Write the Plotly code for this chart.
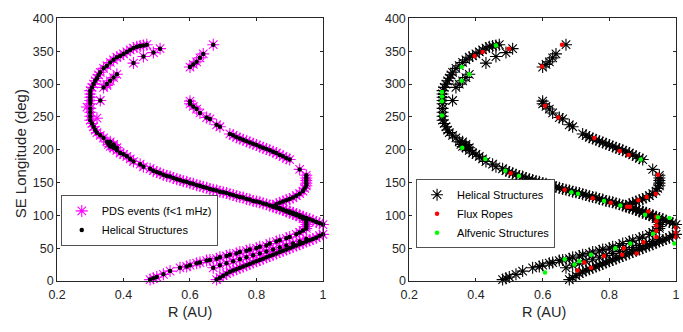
import plotly.graph_objects as go

# ---------------- data ----------------
# outer arc + long diagonal + outer tip
arc_R = [0.47, 0.46, 0.45, 0.44, 0.43, 0.42, 0.41, 0.40, 0.39, 0.38, 0.37, 0.36, 0.35, 0.34, 0.33, 0.325,
         0.32, 0.315, 0.31, 0.305, 0.30, 0.30, 0.30, 0.30, 0.30, 0.30, 0.30, 0.30, 0.30, 0.305, 0.31, 0.315,
         0.32, 0.33, 0.34, 0.35, 0.355, 0.36, 0.37, 0.38, 0.39, 0.40, 0.41, 0.42, 0.43, 0.45, 0.46, 0.48,
         0.49, 0.50, 0.51, 0.52, 0.53, 0.54, 0.55, 0.56, 0.57, 0.58, 0.59, 0.60, 0.61, 0.62, 0.63, 0.64,
         0.65, 0.66, 0.67, 0.68, 0.69, 0.70, 0.71, 0.72, 0.73, 0.74, 0.75, 0.76, 0.77, 0.78, 0.79, 0.80,
         0.81, 0.82, 0.83, 0.84, 0.85, 0.86, 0.87, 0.88, 0.89, 0.90, 0.91, 0.92, 0.93, 0.94, 0.95, 0.96,
         0.97, 0.98, 0.99, 1.00, 1.01, 1.01, 1.01, 1.01, 1.00, 0.99]
arc_lon = [360, 359, 358, 357, 355, 352, 349, 346, 343, 341, 337, 333, 328, 324, 318, 314,
           309, 305, 300, 295, 290, 285, 280, 275, 270, 263, 257, 251, 245, 240, 235, 230,
           226, 222, 218, 212, 208, 205, 203, 199, 195, 193, 190, 186, 182, 178, 174, 171,
           168, 166, 164, 162, 160, 159, 157, 155, 154, 152, 151, 149, 148, 146, 145, 143,
           142, 140, 139, 138, 136, 135, 134, 132, 131, 129, 128, 127, 125, 124, 122, 121,
           120, 118, 117, 115, 114, 112, 111, 109, 107, 106, 104, 102, 100, 98, 96, 94,
           92, 90, 88, 86, 83, 80, 77, 74, 71, 69]

# lower arm from the outer tip down to R~0.68
low_outer_R = [0.98, 0.97, 0.96, 0.95, 0.94, 0.93, 0.92, 0.91, 0.90, 0.89, 0.88, 0.87, 0.86, 0.85, 0.84, 0.83,
               0.82, 0.81, 0.80, 0.79, 0.78, 0.77, 0.76, 0.75, 0.74, 0.73, 0.72, 0.71, 0.70, 0.69, 0.68]
low_outer_lon = [66, 64, 62, 60, 58, 56, 54, 52, 50, 48, 46, 44, 42, 40, 38, 36,
                 34, 32, 30, 28, 26, 24, 22, 20, 18, 16, 14, 11, 8, 5, 2]

# middle lower band
low_mid_R = [0.67, 0.69, 0.71, 0.73, 0.75, 0.77, 0.79, 0.81, 0.83, 0.85, 0.87, 0.89, 0.91, 0.93, 0.95]
low_mid_lon = [20, 24, 27, 30, 33, 36, 39, 42, 45, 48, 51, 54, 57, 60, 64]

# inner lower arm (from R~0.48) up through the inner tip
low_inner_R = [0.48, 0.49, 0.50, 0.52, 0.54, 0.57, 0.59, 0.60, 0.62, 0.63, 0.65, 0.66, 0.68, 0.69, 0.71, 0.72,
               0.74, 0.75, 0.77, 0.78, 0.80, 0.81, 0.83, 0.84, 0.86, 0.87, 0.89, 0.90, 0.92, 0.93, 0.94, 0.95,
               0.95, 0.95, 0.95, 0.95, 0.94, 0.93, 0.92, 0.91, 0.90, 0.89, 0.88, 0.87, 0.86, 0.85]
low_inner_lon = [2, 4, 6, 10, 15, 20, 22, 24, 27, 28, 31, 32, 34, 36, 38, 40,
                 42, 44, 46, 48, 50, 52, 54, 57, 60, 62, 65, 67, 71, 74, 77, 80,
                 83, 86, 89, 92, 95, 98, 100, 102, 104, 106, 108, 110, 112, 113]

# inner arc (right hand one)
inner_R = [0.86, 0.87, 0.88, 0.89, 0.90, 0.91, 0.92, 0.93, 0.94, 0.945, 0.95, 0.95, 0.95, 0.95, 0.95, 0.93,
           0.90, 0.89, 0.88, 0.87, 0.86, 0.85, 0.84, 0.83, 0.82, 0.81, 0.80, 0.79, 0.78, 0.77, 0.76, 0.75,
           0.74, 0.73, 0.72, 0.69, 0.68, 0.66, 0.65, 0.63, 0.62, 0.61, 0.60, 0.60,
           0.60, 0.61, 0.62, 0.63, 0.64, 0.67]
inner_lon = [117, 119, 121, 123, 125, 127, 130, 133, 137, 141, 145, 149, 153, 157, 161, 170,
             185, 187, 190, 192, 195, 197, 199, 201, 203, 205, 207, 209, 211, 213, 215, 217,
             219, 222, 224, 235, 238, 247, 249, 256, 262, 266, 270, 274,
             326, 330, 334, 340, 346, 360]

# secondary points inside the outer arc
second_R = [0.51, 0.49, 0.46, 0.43, 0.38, 0.37, 0.36, 0.35, 0.34, 0.33, 0.36, 0.37, 0.37, 0.38]
second_lon = [354, 348, 342, 332, 315, 310, 305, 300, 295, 275, 212, 208, 206, 203]

# PDS-only events
pds_only_R = [0.29, 0.32, 0.35]
pds_only_lon = [265, 248, 298]

# Flux ropes
fr_R = [0.499, 0.396, 0.42, 0.658, 0.598, 0.607, 0.647, 0.755, 0.831, 0.858, 0.946, 0.939, 0.912, 0.887,
        0.862, 0.504, 0.607, 0.666, 0.75, 0.804, 0.853, 0.917, 0.941, 0.941, 0.941, 0.941, 1.0, 1.0, 1.0,
        0.941, 0.902, 0.843, 0.784, 0.725, 0.705, 0.745, 0.882, 0.838]
fr_lon = [354, 343, 349, 360, 327, 267, 249, 218, 198, 192, 162, 133, 128, 123,
          113, 164, 147, 139, 126, 119, 113, 106, 98, 91, 84, 76, 81, 74, 67,
          67, 59, 50, 38, 28, 16, 20, 42, 40]

# Alfvenic structures
alf_R = [0.46, 0.357, 0.38, 0.357, 0.298, 0.298, 0.298, 0.298, 0.359, 0.428, 0.488, 0.529, 0.568, 0.588,
         0.627, 0.686, 0.706, 0.784, 0.833, 0.894, 0.907, 0.946, 0.98, 0.995, 0.931, 0.863, 0.818, 0.745,
         0.666, 0.607, 0.695, 0.71]
alf_lon = [359, 326, 315, 305, 288, 281, 274, 252, 203, 186, 168, 160, 151, 150,
           142, 135, 133, 122, 115, 185, 101, 97, 96, 57, 72, 57, 50, 40,
           33, 13, 25, 30]

hel_R = arc_R + low_outer_R + low_mid_R + low_inner_R + inner_R + second_R
hel_lon = arc_lon + low_outer_lon + low_mid_lon + low_inner_lon + inner_lon + second_lon
pds_R = hel_R + pds_only_R
pds_lon = hel_lon + pds_only_lon

x_ticks = [0.2, 0.4, 0.6, 0.8, 1.0]
x_ticktext = ["0.2", "0.4", "0.6", "0.8", "1"]
y_ticks = [0, 50, 100, 150, 200, 250, 300, 350, 400]

# ---------------- figure ----------------
W, H = 683, 332
FONT = "Liberation Sans, Arial, sans-serif"
AX = "#262626"

fig = go.Figure()
# left panel
fig.add_trace(go.Scatter(x=pds_R, y=pds_lon, mode="markers", name="PDS events (f<1 mHz)",
                         cliponaxis=False,
                         marker=dict(symbol="asterisk-open", size=10, color="#FF00FF",
                                     line=dict(color="#FF00FF", width=1.1)),
                         xaxis="x", yaxis="y", legend="legend"))
fig.add_trace(go.Scatter(x=hel_R, y=hel_lon, mode="markers", name="Helical Structures",
                         cliponaxis=False,
                         marker=dict(symbol="circle", size=4.5, color="black", line=dict(width=0)),
                         xaxis="x", yaxis="y", legend="legend"))
# right panel
fig.add_trace(go.Scatter(x=hel_R, y=hel_lon, mode="markers", name="Helical Structures",
                         cliponaxis=False,
                         marker=dict(symbol="asterisk-open", size=10, color="black",
                                     line=dict(color="black", width=1.1)),
                         xaxis="x2", yaxis="y2", legend="legend2"))
fig.add_trace(go.Scatter(x=fr_R, y=fr_lon, mode="markers", name="Flux Ropes",
                         cliponaxis=False,
                         marker=dict(symbol="circle", size=4.5, color="#FF0000", line=dict(width=0)),
                         xaxis="x2", yaxis="y2", legend="legend2"))
fig.add_trace(go.Scatter(x=alf_R, y=alf_lon, mode="markers", name="Alfvenic Structures",
                         cliponaxis=False,
                         marker=dict(symbol="circle", size=4.5, color="#00FF00", line=dict(width=0)),
                         xaxis="x2", yaxis="y2", legend="legend2"))

def px(v):
    return v / W

def py(v):
    return 1 - v / H

ax_common = dict(showgrid=False, zeroline=False, showline=True, linecolor=AX, linewidth=0.8,
                 mirror="ticks", ticks="inside", ticklen=3, tickcolor=AX, tickwidth=0.8,
                 tickfont=dict(family=FONT, size=12.5, color=AX))

xdict = dict(ax_common, range=[0.2, 1.0], tickvals=x_ticks, ticktext=x_ticktext, ticklabelstandoff=2)
ydict = dict(ax_common, range=[0, 400], tickvals=y_ticks)

legend_common = dict(bgcolor="white", bordercolor=AX, borderwidth=0.8,
                     font=dict(family=FONT, size=11, color="black"),
                     xanchor="center", yanchor="middle", tracegroupgap=0, itemwidth=30)

fig.update_layout(
    width=W, height=H, margin=dict(l=0, r=0, t=0, b=0),
    paper_bgcolor="white", plot_bgcolor="white", showlegend=True,
    xaxis=dict(xdict, domain=[px(49), px(320)], anchor="y"),
    yaxis=dict(ydict, domain=[py(286), py(12)], anchor="x"),
    xaxis2=dict(xdict, domain=[px(408), px(680)], anchor="y2"),
    yaxis2=dict(ydict, domain=[py(286), py(12)], anchor="x2"),
    legend=dict(legend_common, x=px(133), y=py(223)),
    legend2=dict(legend_common, x=px(486), y=py(216)),
    annotations=[
        dict(text="SE Longitude (deg)", x=px(12), y=py(153), xref="paper", yref="paper",
             textangle=-90, showarrow=False, font=dict(family=FONT, size=15, color=AX),
             xanchor="center", yanchor="middle"),
        dict(text="R (AU)", x=px(185), y=py(318), xref="paper", yref="paper",
             showarrow=False, font=dict(family=FONT, size=14.5, color=AX),
             xanchor="center", yanchor="middle"),
        dict(text="R (AU)", x=px(545), y=py(318), xref="paper", yref="paper",
             showarrow=False, font=dict(family=FONT, size=14.5, color=AX),
             xanchor="center", yanchor="middle"),
    ],
)

fig.write_html("out.html")
